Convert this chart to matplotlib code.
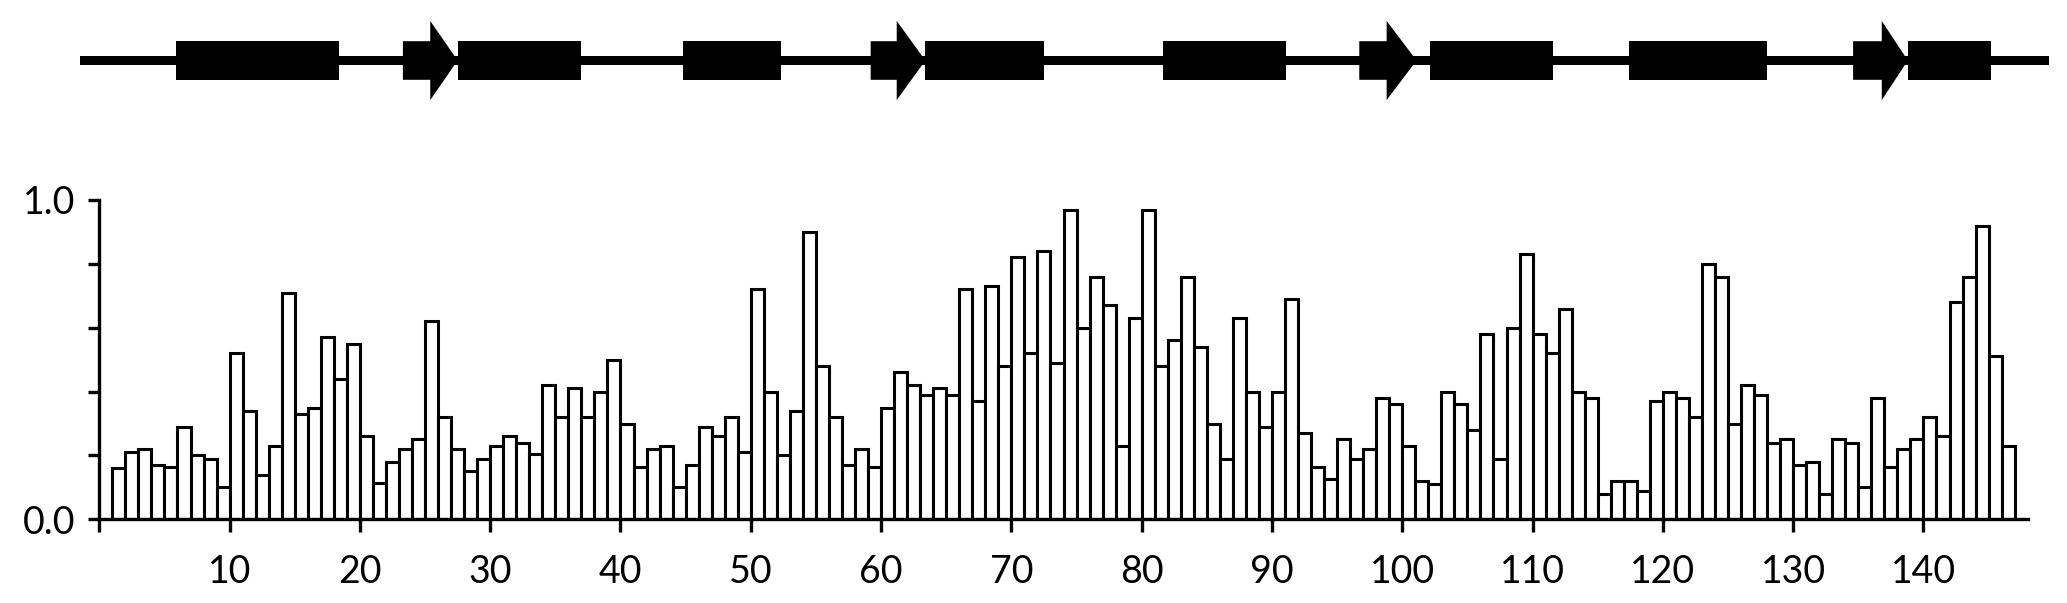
import matplotlib
matplotlib.use("Agg")
import matplotlib.pyplot as plt
from matplotlib.patches import Rectangle, Polygon
import numpy as np

# per-residue values, residues 1..146
values = [
    0.16, 0.21, 0.22, 0.17, 0.165, 0.29, 0.20, 0.19, 0.10, 0.52,
    0.34, 0.14, 0.23, 0.71, 0.33, 0.35, 0.57, 0.44, 0.55, 0.26,
    0.115, 0.18, 0.22, 0.25, 0.62, 0.32, 0.22, 0.15, 0.19, 0.23,
    0.26, 0.24, 0.205, 0.42, 0.32, 0.41, 0.32, 0.40, 0.50, 0.30,
    0.165, 0.22, 0.23, 0.10, 0.17, 0.29, 0.26, 0.32, 0.21, 0.72,
    0.40, 0.20, 0.34, 0.90, 0.48, 0.32, 0.17, 0.22, 0.165, 0.35,
    0.46, 0.42, 0.39, 0.41, 0.39, 0.72, 0.37, 0.73, 0.48, 0.82,
    0.52, 0.84, 0.49, 0.97, 0.60, 0.76, 0.67, 0.23, 0.63, 0.97,
    0.48, 0.56, 0.76, 0.54, 0.30, 0.19, 0.63, 0.40, 0.29, 0.40,
    0.69, 0.27, 0.165, 0.125, 0.25, 0.19, 0.22, 0.38, 0.36, 0.23,
    0.12, 0.11, 0.40, 0.36, 0.28, 0.58, 0.19, 0.60, 0.83, 0.58,
    0.52, 0.66, 0.40, 0.38, 0.08, 0.12, 0.12, 0.09, 0.37, 0.40,
    0.38, 0.32, 0.80, 0.76, 0.30, 0.42, 0.39, 0.24, 0.25, 0.17,
    0.18, 0.08, 0.25, 0.24, 0.10, 0.38, 0.165, 0.22, 0.25, 0.32,
    0.26, 0.68, 0.76, 0.92, 0.51, 0.23,
]
residues = np.arange(1, len(values) + 1)

# secondary structure (residue ranges)
helices = [(5.9, 18.4), (27.5, 37.0), (44.8, 52.3), (63.4, 72.5),
           (81.6, 91.1), (102.1, 111.6), (117.4, 128.0), (138.8, 145.2)]
# strands: (start, head start, tip)
strands = [(23.3, 25.4, 27.5), (59.2, 61.2, 63.4),
           (96.7, 98.8, 101.1), (134.6, 136.8, 138.8)]
chain = (-1.5, 149.6)

xticks = np.arange(0, 141, 10)
xticklabels = [''] + [str(t) for t in xticks[1:]]
yticks = np.arange(0, 1.01, 0.2)
yticklabels = ['0.0', '', '', '', '', '1.0']

plt.rcParams['font.family'] = ['Lato', 'DejaVu Sans']

W, H = 2067, 603
fig = plt.figure(figsize=(W / 100, H / 100), dpi=100)

x0, x1 = 99.3, 2027.7
y0, y1 = 519.3, 200.0
ax = fig.add_axes([x0 / W, 1 - y0 / H, (x1 - x0) / W, (y0 - y1) / H])

ax.bar(residues, values, width=1.0, align='edge', color='white',
       edgecolor='black', linewidth=2.2)
ax.set_xlim(0, 148)
ax.set_ylim(0, 1.0)
for s in ['top', 'right']:
    ax.spines[s].set_visible(False)
for s in ['left', 'bottom']:
    ax.spines[s].set_linewidth(2.4)
ax.set_xticks(xticks)
ax.set_xticklabels(xticklabels)
ax.set_yticks(yticks)
ax.set_yticklabels(yticklabels)
ax.tick_params(axis='x', direction='out', length=9, width=2.4, pad=16, labelsize=27)
ax.tick_params(axis='y', direction='out', length=8, width=2.4, pad=9, labelsize=27)

# topology diagram on top, same x scale as the bars
axt = fig.add_axes([x0 / W, 1 - 120 / H, (x1 - x0) / W, 120 / H])
axt.set_xlim(0, 148)
axt.set_ylim(-(120 - 60.5) / 19.3, 60.5 / 19.3)
axt.axis('off')

axt.add_patch(Rectangle((chain[0], -0.23), chain[1] - chain[0], 0.46,
                        color='black', clip_on=False, lw=0))
for a, b in helices:
    axt.add_patch(Rectangle((a, -1), b - a, 2, color='black', clip_on=False, lw=0))
for a, h, t in strands:
    pts = [(a, -1), (h, -1), (h, -2.05), (t, 0), (h, 2.05), (h, 1), (a, 1)]
    axt.add_patch(Polygon(pts, closed=True, color='black', clip_on=False, lw=0))

fig.savefig('out.png', dpi=100)
